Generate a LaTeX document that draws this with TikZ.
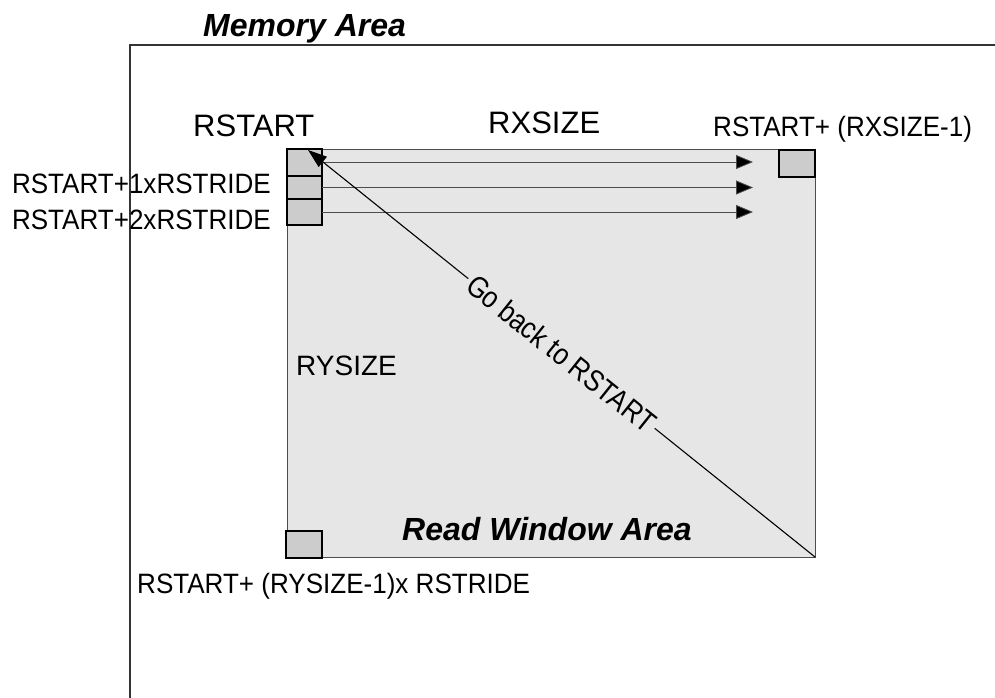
\documentclass[tikz,border=0pt]{standalone}
\usepackage{fontspec}
\setmainfont{Liberation Sans}
\newfontfamily\nf[FakeStretch=0.93]{Liberation Sans}
\newfontfamily\gf[FakeStretch=0.86]{Liberation Sans}
\usetikzlibrary{arrows.meta}
\definecolor{winfill}{HTML}{E6E6E6}
\definecolor{boxfill}{HTML}{CCCCCC}
\tikzset{
  cell/.style={draw=black, line width=1.4pt, fill=boxfill, inner sep=0pt, outer sep=0pt, minimum width=35pt},
  lbl/.style={inner sep=0pt, font=\fontsize{28}{30}\selectfont\nf},
  biglbl/.style={inner sep=0pt, font=\fontsize{31}{33}\selectfont},
  title/.style={inner sep=0pt, font=\fontsize{32}{34}\selectfont\bfseries\itshape},
  rowarrow/.style={draw=black!70, line width=0.8pt, -{Triangle[length=17pt,width=14pt,fill=black]}},
}
\begin{document}
\begin{tikzpicture}[x=1pt,y=-1pt]
\useasboundingbox (0,0) rectangle (995,698);
% memory area border
\draw[draw=black!80, line width=1.1pt] (130,698) -- (130,45) -- (995,45);
% read window
\node[draw=black!70, line width=0.9pt, fill=winfill, inner sep=0pt, outer sep=0pt,
      minimum width=528pt, minimum height=408pt, anchor=north west] (win) at (287,149) {};
% cells
\node[cell, minimum height=27pt, anchor=north west] (b0) at (287,149) {};
\node[cell, minimum height=23pt, anchor=north west] (b1) at (287,176) {};
\node[cell, minimum height=26pt, anchor=north west] (b2) at (287,199) {};
\node[cell, minimum height=27pt, minimum width=36pt, anchor=north east] (bx) at (815,150) {};
\node[cell, minimum height=27pt, minimum width=36pt, anchor=south west] (by) at (286,558) {};
% row arrows
\coordinate (e0) at (753,162);
\coordinate (e1) at (753,187.5);
\coordinate (e2) at (753,212);
\draw[rowarrow] (b0.east |- e0) -- (e0);
\draw[rowarrow] (b1.east |- e1) -- (e1);
\draw[rowarrow] (b2.east |- e2) -- (e2);
% go back arrow
\coordinate (tip) at (308,150);
\draw[line width=1.1pt, -{Triangle[length=19pt,width=13pt]}] (win.south east) -- (tip)
  node[pos=0.5, sloped, fill=winfill, inner xsep=3pt, inner ysep=0pt, font=\fontsize{30}{32}\selectfont\gf] (gb) {Go back to RSTART};
% labels
\node[title, anchor=base west] (tmem) at (203,37) {Memory Area};
\node[biglbl, anchor=base west] (trs) at (193,136) {RSTART};
\node[biglbl, anchor=base west] (trx) at (488,134) {RXSIZE};
\node[lbl, anchor=base west] (trxe) at (713,136) {RSTART+ (RXSIZE-1)};
\node[lbl, anchor=base east] (tr1) at (271,193) {RSTART+1xRSTRIDE};
\node[lbl, anchor=base east] (tr2) at (271,229) {RSTART+2xRSTRIDE};
\node[inner sep=0pt, font=\fontsize{28}{30}\selectfont, anchor=base west] (try) at (296,375) {RYSIZE};
\node[title, anchor=base west] (twin) at (402,540) {Read Window Area};
\node[lbl, anchor=base west] (trye) at (137,593) {RSTART+ (RYSIZE-1)x RSTRIDE};
\end{tikzpicture}
\end{document}
